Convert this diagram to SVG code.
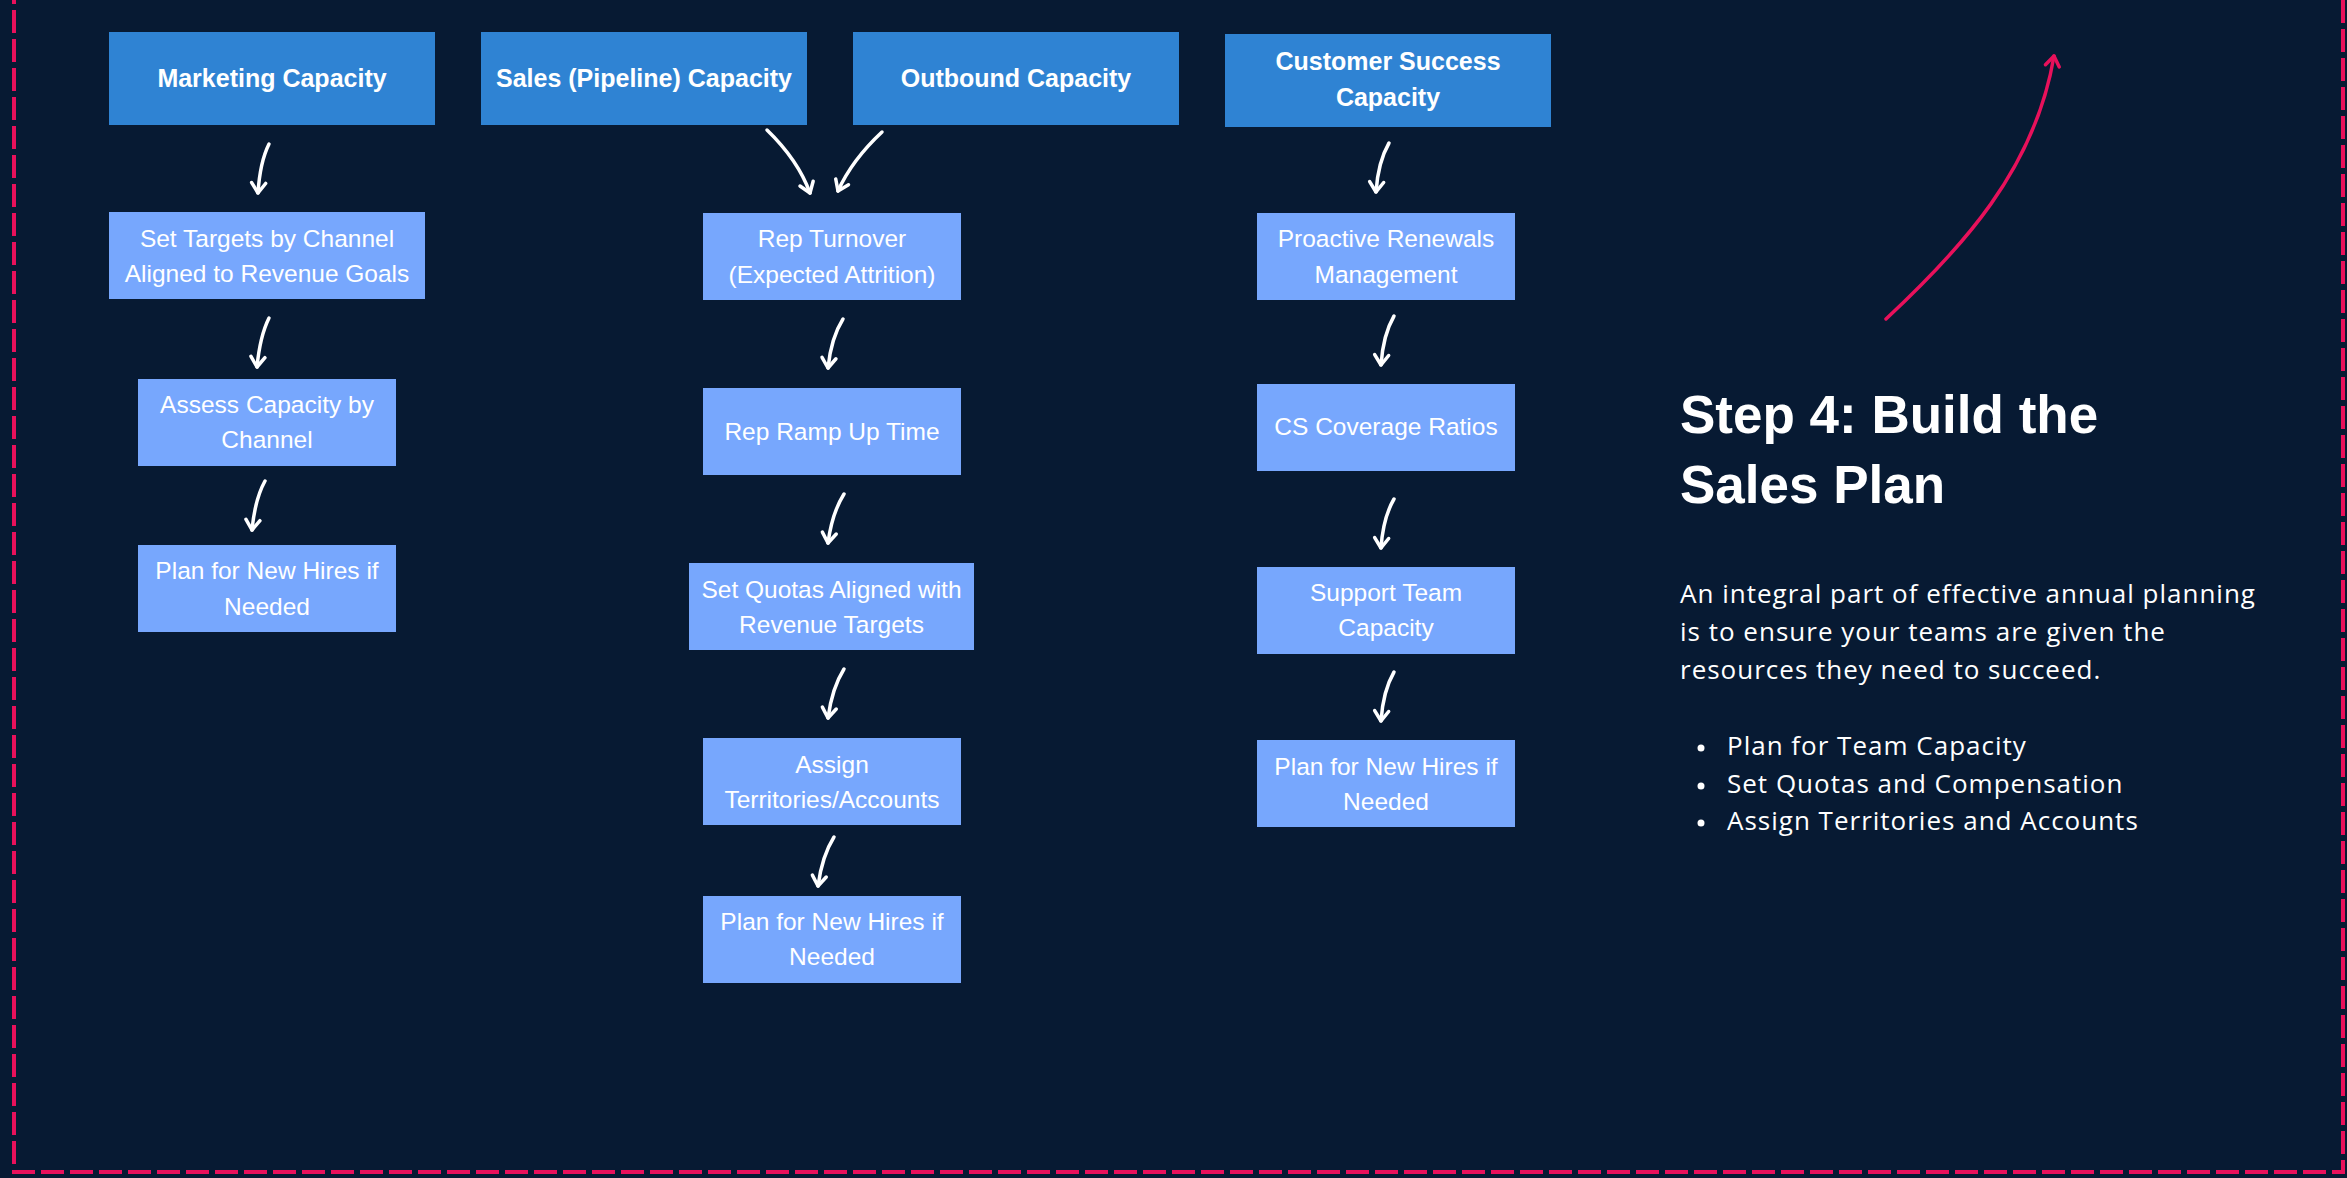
<svg xmlns="http://www.w3.org/2000/svg" width="2347" height="1178" viewBox="0 0 2347 1178">
  <defs>
    <marker id="ah" markerUnits="userSpaceOnUse" viewBox="-14 -10 18 20" markerWidth="18" markerHeight="20" refX="0" refY="0" orient="auto">
      <path d="M-10,-7 L0,0 L-10,7" fill="none" stroke="#ffffff" stroke-width="3.5" stroke-linecap="round" stroke-linejoin="round"/>
    </marker>
    <marker id="ahp" markerUnits="userSpaceOnUse" viewBox="-14 -10 18 20" markerWidth="18" markerHeight="20" refX="0" refY="0" orient="auto">
      <path d="M-10,-7 L0,0 L-10,7" fill="none" stroke="#e8115b" stroke-width="3.5" stroke-linecap="round" stroke-linejoin="round"/>
    </marker>
  </defs>
  <style>
    .hdr { fill: #2f83d3; }
    .box { fill: #77a7fd; }
    .ht { font-family: "Liberation Sans", Arial, sans-serif; font-weight: bold; font-size: 25px; fill: #ffffff; text-anchor: middle; }
    .bt { font-family: "Liberation Sans", Arial, sans-serif; font-size: 24.5px; fill: #ffffff; text-anchor: middle; }
    .conn { fill: none; stroke: #ffffff; stroke-width: 3.5; stroke-linecap: round; marker-end: url(#ah); }
    .title { font-family: "Liberation Sans", Arial, sans-serif; font-weight: bold; font-size: 53px; fill: #ffffff; }
    .para { font-family: "Open Sans", "Liberation Sans", sans-serif; font-size: 26px; letter-spacing: 1px; fill: #ffffff; }
  </style>
  <rect x="0" y="0" width="2347" height="1178" fill="#071a33"/>
  <rect x="14" y="-20" width="2329" height="1192" fill="none" stroke="#e8115b" stroke-width="4" stroke-dasharray="23 6"/>

  <g id="n-marketing"><rect class="hdr" x="109" y="32" width="326" height="93"/><text class="ht" x="272" y="87">Marketing Capacity</text></g>
  <g id="n-sales"><rect class="hdr" x="481" y="32" width="326" height="93"/><text class="ht" x="644" y="87">Sales (Pipeline) Capacity</text></g>
  <g id="n-outbound"><rect class="hdr" x="853" y="32" width="326" height="93"/><text class="ht" x="1016" y="87">Outbound Capacity</text></g>
  <g id="n-cs"><rect class="hdr" x="1225" y="34" width="326" height="93"/><text class="ht" x="1388" y="70">Customer Success</text><text class="ht" x="1388" y="106">Capacity</text></g>

  <g id="n-set-targets"><rect class="box" x="109" y="212" width="316" height="87"/><text class="bt" x="267" y="247">Set Targets by Channel</text><text class="bt" x="267" y="282">Aligned to Revenue Goals</text></g>
  <g id="n-assess"><rect class="box" x="138" y="379" width="258" height="87"/><text class="bt" x="267" y="413">Assess Capacity by</text><text class="bt" x="267" y="448">Channel</text></g>
  <g id="n-plan-mkt"><rect class="box" x="138" y="545" width="258" height="87"/><text class="bt" x="267" y="579">Plan for New Hires if</text><text class="bt" x="267" y="615">Needed</text></g>

  <g id="n-rep-turnover"><rect class="box" x="703" y="213" width="258" height="87"/><text class="bt" x="832" y="247">Rep Turnover</text><text class="bt" x="832" y="283">(Expected Attrition)</text></g>
  <g id="n-ramp"><rect class="box" x="703" y="388" width="258" height="87"/><text class="bt" x="832" y="440">Rep Ramp Up Time</text></g>
  <g id="n-quotas"><rect class="box" x="689" y="563" width="285" height="87"/><text class="bt" x="831.5" y="598">Set Quotas Aligned with</text><text class="bt" x="831.5" y="633">Revenue Targets</text></g>
  <g id="n-assign"><rect class="box" x="703" y="738" width="258" height="87"/><text class="bt" x="832" y="773">Assign</text><text class="bt" x="832" y="808">Territories/Accounts</text></g>
  <g id="n-plan-sales"><rect class="box" x="703" y="896" width="258" height="87"/><text class="bt" x="832" y="930">Plan for New Hires if</text><text class="bt" x="832" y="965">Needed</text></g>

  <g id="n-renewals"><rect class="box" x="1257" y="213" width="258" height="87"/><text class="bt" x="1386" y="247">Proactive Renewals</text><text class="bt" x="1386" y="283">Management</text></g>
  <g id="n-coverage"><rect class="box" x="1257" y="384" width="258" height="87"/><text class="bt" x="1386" y="435">CS Coverage Ratios</text></g>
  <g id="n-support"><rect class="box" x="1257" y="567" width="258" height="87"/><text class="bt" x="1386" y="601">Support Team</text><text class="bt" x="1386" y="636">Capacity</text></g>
  <g id="n-plan-cs"><rect class="box" x="1257" y="740" width="258" height="87"/><text class="bt" x="1386" y="775">Plan for New Hires if</text><text class="bt" x="1386" y="810">Needed</text></g>

  <g id="connectors">
    <path class="conn" d="M269,144 Q260,162 258,193"/>
    <path class="conn" d="M269,318 Q260,336 257,367"/>
    <path class="conn" d="M265,481 Q255,499 252,530"/>
    <path class="conn" d="M767,130 Q798,160 810,193"/>
    <path class="conn" d="M882,132 Q852,160 838,191"/>
    <path class="conn" d="M843,319 Q831,338 828,368"/>
    <path class="conn" d="M844,494 Q832,513 828,543"/>
    <path class="conn" d="M844,669 Q832,688 828,718"/>
    <path class="conn" d="M834,837 Q822,856 818,886"/>
    <path class="conn" d="M1389,143 Q1378,162 1376,192"/>
    <path class="conn" d="M1394,316 Q1383,335 1381,365"/>
    <path class="conn" d="M1394,499 Q1383,518 1381,548"/>
    <path class="conn" d="M1394,672 Q1383,691 1381,721"/>
    <path d="M1886,319 C1960,250 2035,170 2054,56" fill="none" stroke="#e8115b" stroke-width="3.5" stroke-linecap="round" marker-end="url(#ahp)"/>
  </g>

  <g id="panel">
    <text class="title" x="1680" y="433">Step 4: Build the</text>
    <text class="title" x="1680" y="503">Sales Plan</text>
    <text class="para" x="1680" y="603">An integral part of effective annual planning</text>
    <text class="para" x="1680" y="641">is to ensure your teams are given the</text>
    <text class="para" x="1680" y="679">resources they need to succeed.</text>
    <circle cx="1701" cy="748" r="3.5" fill="#ffffff"/>
    <circle cx="1701" cy="786" r="3.5" fill="#ffffff"/>
    <circle cx="1701" cy="823" r="3.5" fill="#ffffff"/>
    <text class="para" x="1727" y="755">Plan for Team Capacity</text>
    <text class="para" x="1727" y="793">Set Quotas and Compensation</text>
    <text class="para" x="1727" y="830">Assign Territories and Accounts</text>
  </g>
</svg>
